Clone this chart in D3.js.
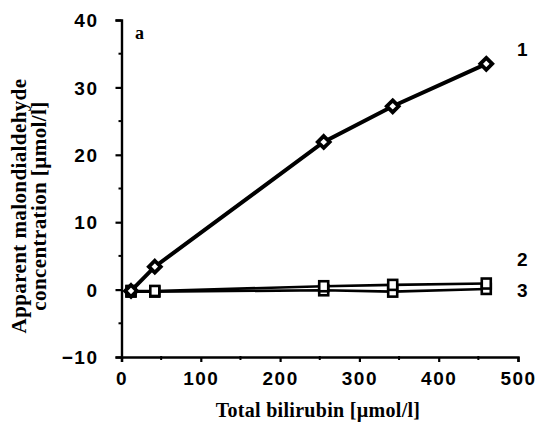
<!DOCTYPE html>
<html><head><meta charset="utf-8">
<script src="https://cdn.jsdelivr.net/npm/d3@7"></script>
<style>body{margin:0;background:#fff}svg{display:block}</style>
</head><body>
<script>
const bilirubin = [12, 42, 255, 342, 460];
const series1 = [-0.2, 3.4, 21.9, 27.2, 33.5];
const series2 = [-0.2, -0.2, 0.5, 0.7, 0.9];
const series3 = [-0.3, -0.3, -0.1, -0.3, 0.1];
const seriesLabels = ["1", "2", "3"];
const xTicks = [0, 100, 200, 300, 400, 500];
const yTicks = [-10, 0, 10, 20, 30, 40];

const W = 546, H = 429;
const svg = d3.select("body").append("svg").attr("width", W).attr("height", H);
const x = d3.scaleLinear().domain([0, 500]).range([121.5, 518]);
const y = d3.scaleLinear().domain([-10, 40]).range([357, 20]);

const sansBold = s => s.style("font-family", "Liberation Sans, Arial, sans-serif")
  .style("font-weight", "bold").style("font-size", "19px").style("letter-spacing", "1.5px");
const serif = (s, sz) => s.style("font-family", "Liberation Serif, Times New Roman, serif")
  .style("font-weight", "bold").style("font-size", sz + "px");

const g = svg.append("g");
const xAxis = d3.axisBottom(x).tickValues(xTicks).tickSize(5).tickFormat(d3.format("d"));
const yAxis = d3.axisLeft(y).tickValues(yTicks).tickSize(6).tickFormat(d3.format("d"));
const gx = g.append("g").attr("transform", `translate(0,${y(-10)})`).call(xAxis);
const gy = g.append("g").attr("transform", `translate(${x(0)},0)`).call(yAxis);
[gx, gy].forEach(a => {
  a.select(".domain").attr("stroke", "#000").attr("stroke-width", 2.4);
  a.selectAll(".tick line").attr("stroke", "#000").attr("stroke-width", 2.2);
  a.selectAll(".tick text").attr("fill", "#000").call(sansBold);
});
gx.selectAll(".tick text").attr("y", 14).attr("dy", "0.75em");
gy.selectAll(".tick text").attr("x", -23).attr("dy", "0.35em");

const xMinor = d3.range(50, 500, 100);
g.selectAll(".xm").data(xMinor).enter().append("line")
  .attr("x1", d => x(d)).attr("x2", d => x(d)).attr("y1", y(-10) - 1).attr("y2", y(-10) + 3)
  .attr("stroke", "#000").attr("stroke-width", 2);
const yMinor = d3.range(-5, 40, 10);
g.selectAll(".ym").data(yMinor).enter().append("line")
  .attr("x1", x(0) - 3).attr("x2", x(0) + 1).attr("y1", d => y(d)).attr("y2", d => y(d))
  .attr("stroke", "#000").attr("stroke-width", 2);

const line = d3.line().x((d, i) => x(bilirubin[i])).y(d => y(d));
g.append("path").datum(series3).attr("d", line).attr("fill", "none").attr("stroke", "#000").attr("stroke-width", 2.6);
g.append("path").datum(series2).attr("d", line).attr("fill", "none").attr("stroke", "#000").attr("stroke-width", 2.6);
g.append("path").datum(series1).attr("d", line).attr("fill", "none").attr("stroke", "#000").attr("stroke-width", 4);

[series3, series2].forEach(s => {
  g.selectAll(null).data(s).enter().append("rect")
    .attr("x", (d, i) => x(bilirubin[i]) - 4.5).attr("y", d => y(d) - 5)
    .attr("width", 9).attr("height", 10)
    .attr("fill", "#fff").attr("stroke", "#000").attr("stroke-width", 2.6);
});
const diamond = d3.symbol().type(d3.symbolDiamond2).size(90);
g.selectAll(null).data(series1).enter().append("path")
  .attr("d", diamond)
  .attr("transform", (d, i) => `translate(${x(bilirubin[i])},${y(d)})`)
  .attr("fill", "#fff").attr("stroke", "#000").attr("stroke-width", 3.8);

const labY = [49, 259, 290];
svg.selectAll(".sl").data(seriesLabels).enter().append("text")
  .attr("x", 517).attr("y", (d, i) => labY[i]).attr("dy", "0.35em")
  .call(sansBold).text(d => d);

svg.append("text").attr("x", 135).attr("y", 39).call(serif, 18).text("a");

svg.append("text").attr("x", 318).attr("y", 417).attr("text-anchor", "middle")
  .call(serif, 20).style("letter-spacing", "0.3px")
  .text("Total bilirubin [µmol/l]");

const yt = svg.append("text").attr("transform", "translate(26,206) rotate(-90)").attr("text-anchor", "middle")
  .call(serif, 21).style("letter-spacing", "0.4px");
yt.append("tspan").attr("x", 0).attr("y", 0).text("Apparent malondialdehyde");
yt.append("tspan").attr("x", 0).attr("y", 20).text("concentration  [µmol/l]");
</script>
</body></html>
